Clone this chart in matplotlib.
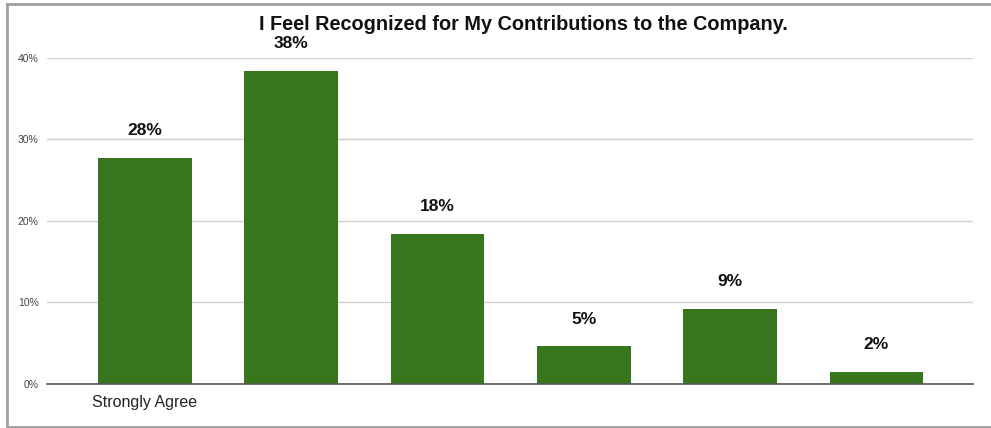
import matplotlib.pyplot as plt
from matplotlib.lines import Line2D

plt.rcParams['font.family'] = ['Liberation Sans', 'DejaVu Sans']

categories = ['Strongly Agree', 'Agree', 'Somewhat Agree', 'Somewhat Disagree', 'Disagree', 'Strongly Disagree']
shown_labels = ['Strongly Agree', '', '', '', '', '']
values = [27.7, 38.4, 18.4, 4.6, 9.2, 1.5]
yticks = [0, 10, 20, 30, 40]

fig = plt.figure(figsize=(9.91, 4.28), dpi=100)
ax = fig.add_axes([47/991, 1 - 384/428, (973 - 47)/991, (384 - 57.5)/428])

x = range(len(categories))
ax.bar(x, values, width=0.64, color='#38761d')
for xi, v in zip(x, values):
    ax.annotate(f'{round(v):d}%', (xi, v), xytext=(0, 14), textcoords='offset points',
                ha='center', va='bottom', fontsize=12.5, fontweight='bold', color='#111111')

ax.set_xlim(-0.67, 5.66)
ax.set_ylim(0, 40)
ax.set_yticks(yticks)
ax.set_yticklabels([f'{t}%' for t in yticks], fontsize=7.5, color='#444444')
ax.set_xticks(list(x))
ax.set_xticklabels(shown_labels, fontsize=11.5, color='#222222')
ax.tick_params(axis='both', length=0)
ax.tick_params(axis='x', pad=8)
ax.tick_params(axis='y', pad=6)
ax.grid(axis='y', color='#d0d0d0', linewidth=1)
ax.set_axisbelow(True)
for s in ['top', 'right', 'left']:
    ax.spines[s].set_visible(False)
ax.spines['bottom'].set_color('#555555')
ax.spines['bottom'].set_linewidth(1.2)

fig.text(523/991, 1 - 25/428, 'I Feel Recognized for My Contributions to the Company.',
         ha='center', va='center', fontsize=14.3, fontweight='bold', color='#111111')

# outer frame
fc = '#a0a0a0'
fig.add_artist(Line2D([7/991, 7/991], [1 - 427/428, 1 - 4/428], color=fc, lw=2, transform=fig.transFigure))
fig.add_artist(Line2D([7/991, 1], [1 - 4/428, 1 - 4/428], color=fc, lw=2, transform=fig.transFigure))
fig.add_artist(Line2D([7/991, 1], [1 - 427/428, 1 - 427/428], color=fc, lw=2, transform=fig.transFigure))

fig.savefig('out.png', dpi=100)
